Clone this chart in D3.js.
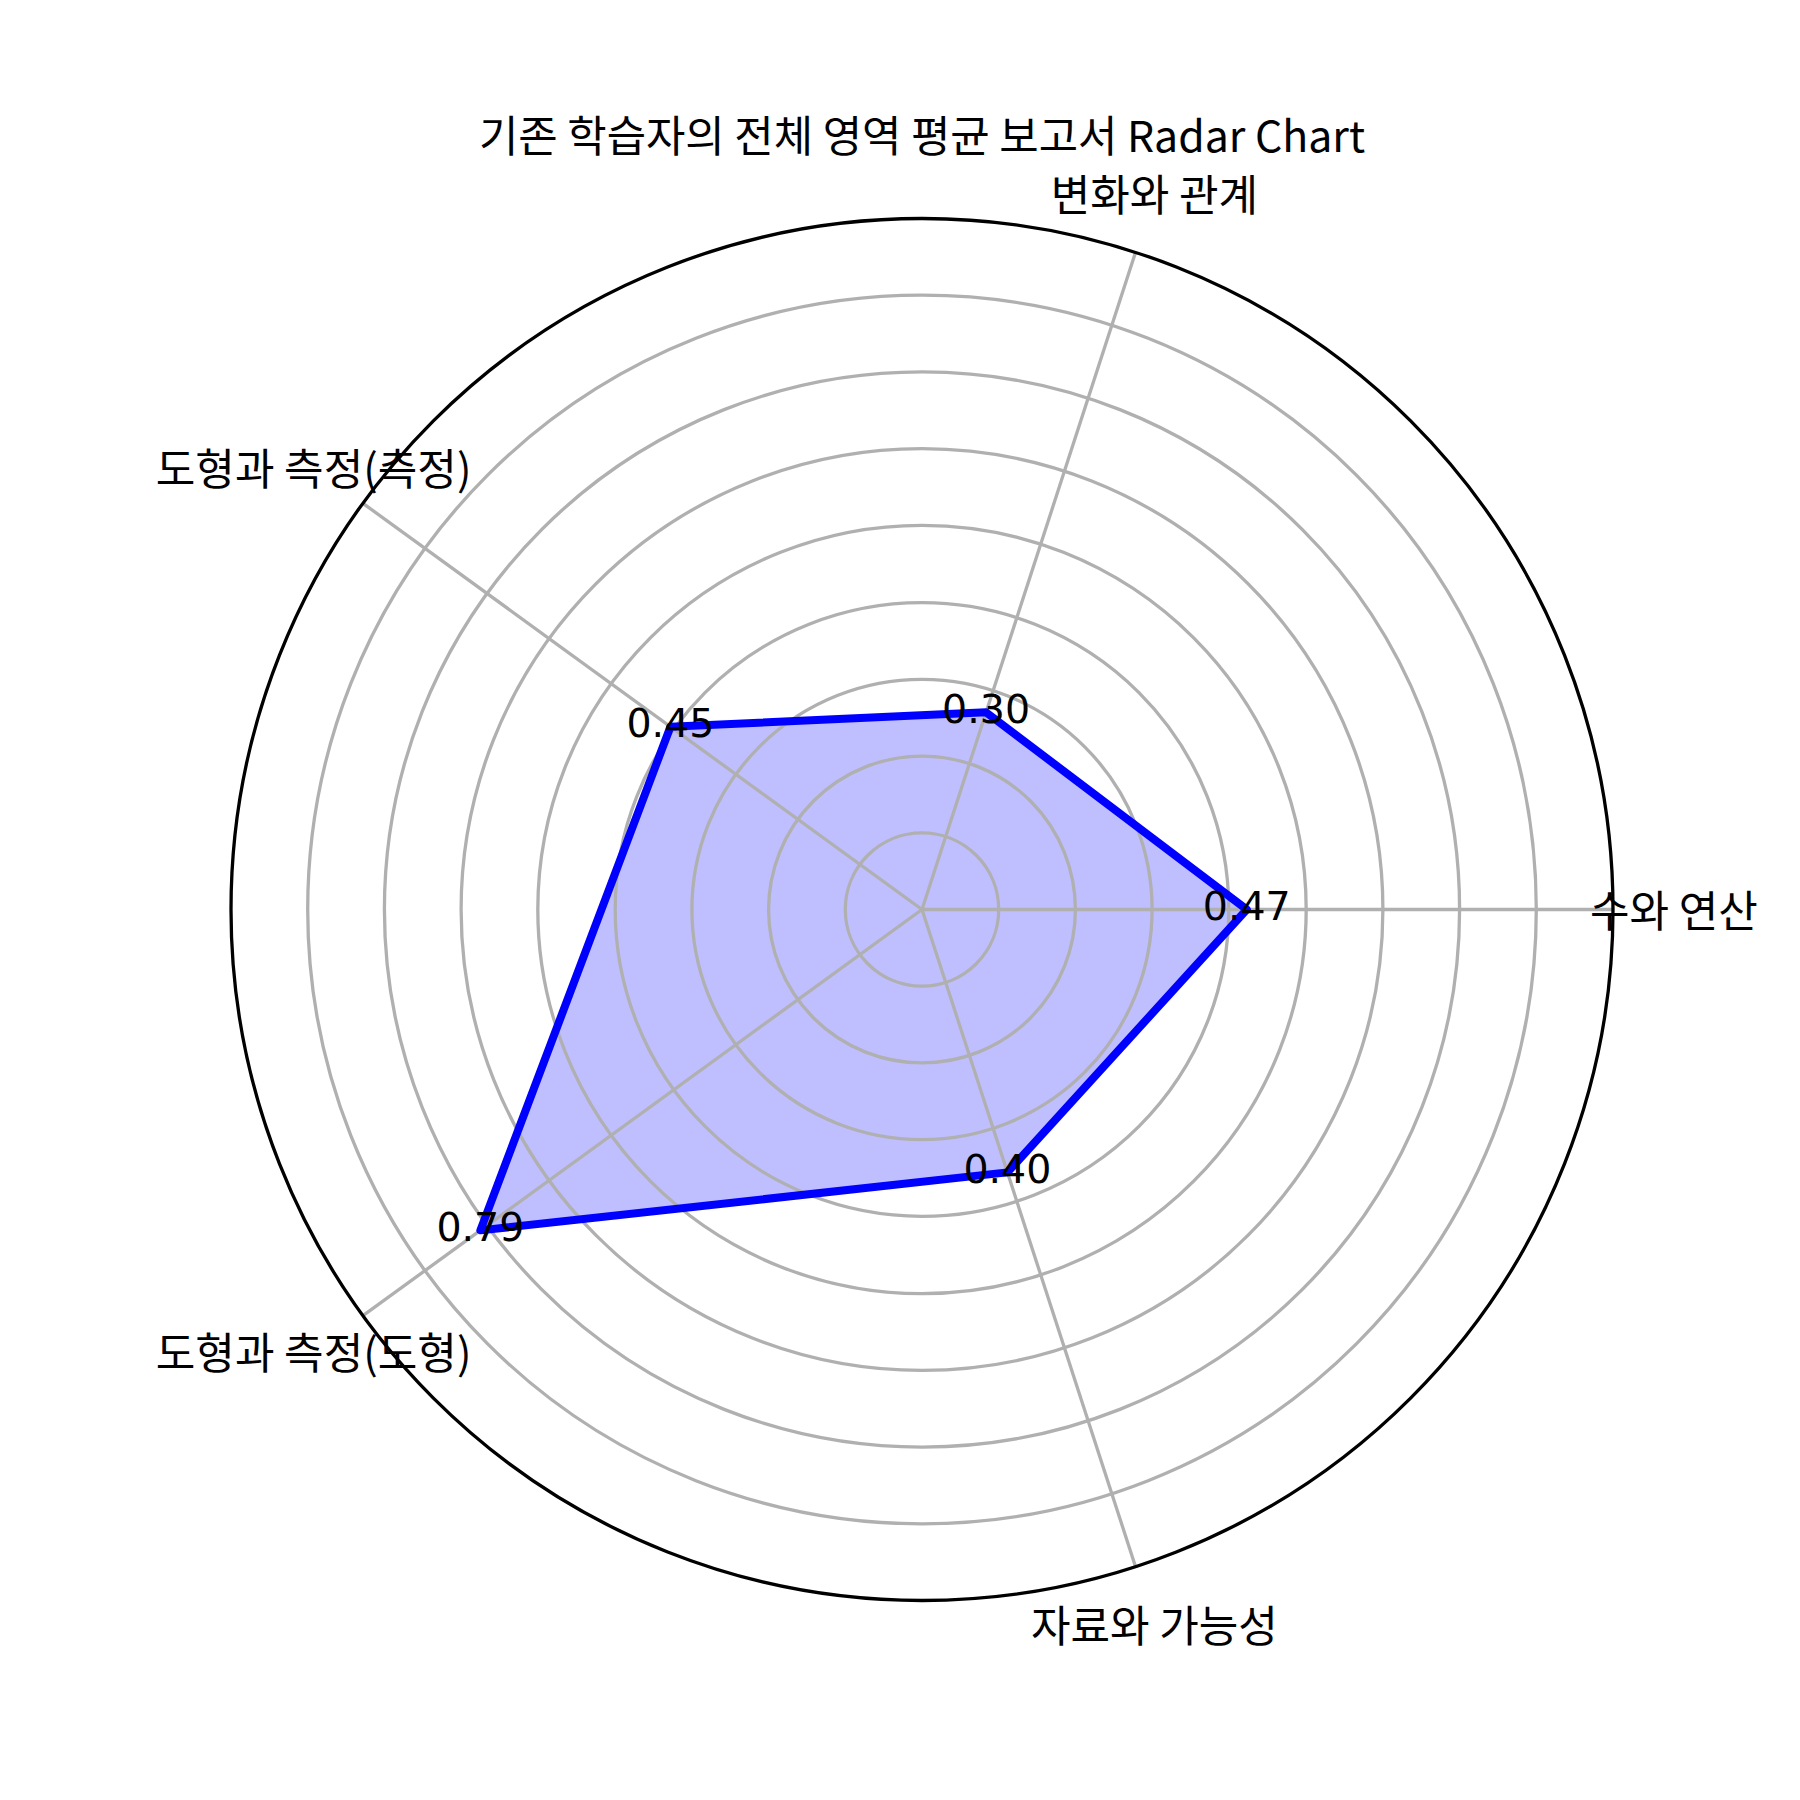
<!DOCTYPE html>
<html>
<head>
<meta charset="utf-8">
<script src="https://cdn.jsdelivr.net/npm/d3@7"></script>
<style>
  html, body { margin: 0; padding: 0; background: #ffffff; }
  svg { display: block; }
</style>
</head>
<body>
<svg id="chart" width="1800" height="1800"></svg>
<script>
const title = '기존 학습자의 전체 영역 평균 보고서 Radar Chart';
const categories = ['수와 연산', '변화와 관계', '도형과 측정(측정)', '도형과 측정(도형)', '자료와 가능성'];
const values = [0.47, 0.30, 0.45, 0.79, 0.40];
const gridTicks = [0.111, 0.222, 0.333, 0.444, 0.556, 0.667, 0.778, 0.889];
const rDomain = [0, 1];

const W = 1800, H = 1800;
const cx = 922, cy = 909.5;
const R = 691;
const labelR = 752;
const krFont = '"Noto Sans CJK KR", "Noto Sans", sans-serif';
const numFont = '"DejaVu Sans", sans-serif';

const svg = d3.select('#chart');
svg.append('rect').attr('width', W).attr('height', H).attr('fill', '#ffffff');

const g = svg.append('g').attr('transform', `translate(${cx},${cy})`);

const r = d3.scaleLinear().domain(rDomain).range([0, R]);
const angle = d3.scaleLinear().domain([0, categories.length]).range([0, 2 * Math.PI]);

const px = (a, rad) => rad * Math.cos(a);
const py = (a, rad) => -rad * Math.sin(a);

const pts = values.map((v, i) => [px(angle(i), r(v)), py(angle(i), r(v))]);
const lineGen = d3.line().curve(d3.curveLinearClosed);

// filled area
g.append('path')
  .attr('d', lineGen(pts))
  .attr('fill', 'rgb(0,0,255)')
  .attr('fill-opacity', 0.25)
  .attr('stroke', 'none');

// grid circles
g.selectAll('circle.grid')
  .data(gridTicks)
  .enter().append('circle')
  .attr('class', 'grid')
  .attr('r', d => r(d))
  .attr('fill', 'none')
  .attr('stroke', '#b0b0b0')
  .attr('stroke-width', 3.3);

// spokes
g.selectAll('line.spoke')
  .data(categories)
  .enter().append('line')
  .attr('class', 'spoke')
  .attr('x1', 0).attr('y1', 0)
  .attr('x2', (d, i) => px(angle(i), r(rDomain[1])))
  .attr('y2', (d, i) => py(angle(i), r(rDomain[1])))
  .attr('stroke', '#b0b0b0')
  .attr('stroke-width', 3.3);

// data line
g.append('path')
  .attr('d', lineGen(pts))
  .attr('fill', 'none')
  .attr('stroke', '#0000ff')
  .attr('stroke-width', 8)
  .attr('stroke-linejoin', 'round');

// outer spine
g.append('circle')
  .attr('r', r(rDomain[1]))
  .attr('fill', 'none')
  .attr('stroke', '#000000')
  .attr('stroke-width', 3.3);

// value labels
const numSize = 39.5;
g.selectAll('text.val')
  .data(values)
  .enter().append('text')
  .attr('class', 'val')
  .attr('x', (d, i) => px(angle(i), r(d)))
  .attr('y', (d, i) => py(angle(i), r(d)) + numSize * 0.272)
  .attr('text-anchor', 'middle')
  .attr('font-family', numFont)
  .attr('font-size', numSize)
  .attr('fill', '#000')
  .text(d => d3.format('.2f')(d));

// category labels
g.selectAll('text.cat')
  .data(categories)
  .enter().append('text')
  .attr('class', 'cat')
  .attr('x', (d, i) => px(angle(i), labelR))
  .attr('y', (d, i) => py(angle(i), labelR) - 2)
  .attr('text-anchor', 'middle')
  .attr('dominant-baseline', 'central')
  .attr('font-family', krFont)
  .attr('font-size', 43)
  .attr('fill', '#000')
  .text(d => d);

// title
svg.append('text')
  .attr('x', cx)
  .attr('y', 133)
  .attr('text-anchor', 'middle')
  .attr('dominant-baseline', 'central')
  .attr('font-family', krFont)
  .attr('font-size', 42.8)
  .attr('fill', '#000')
  .text(title);
</script>
</body>
</html>
